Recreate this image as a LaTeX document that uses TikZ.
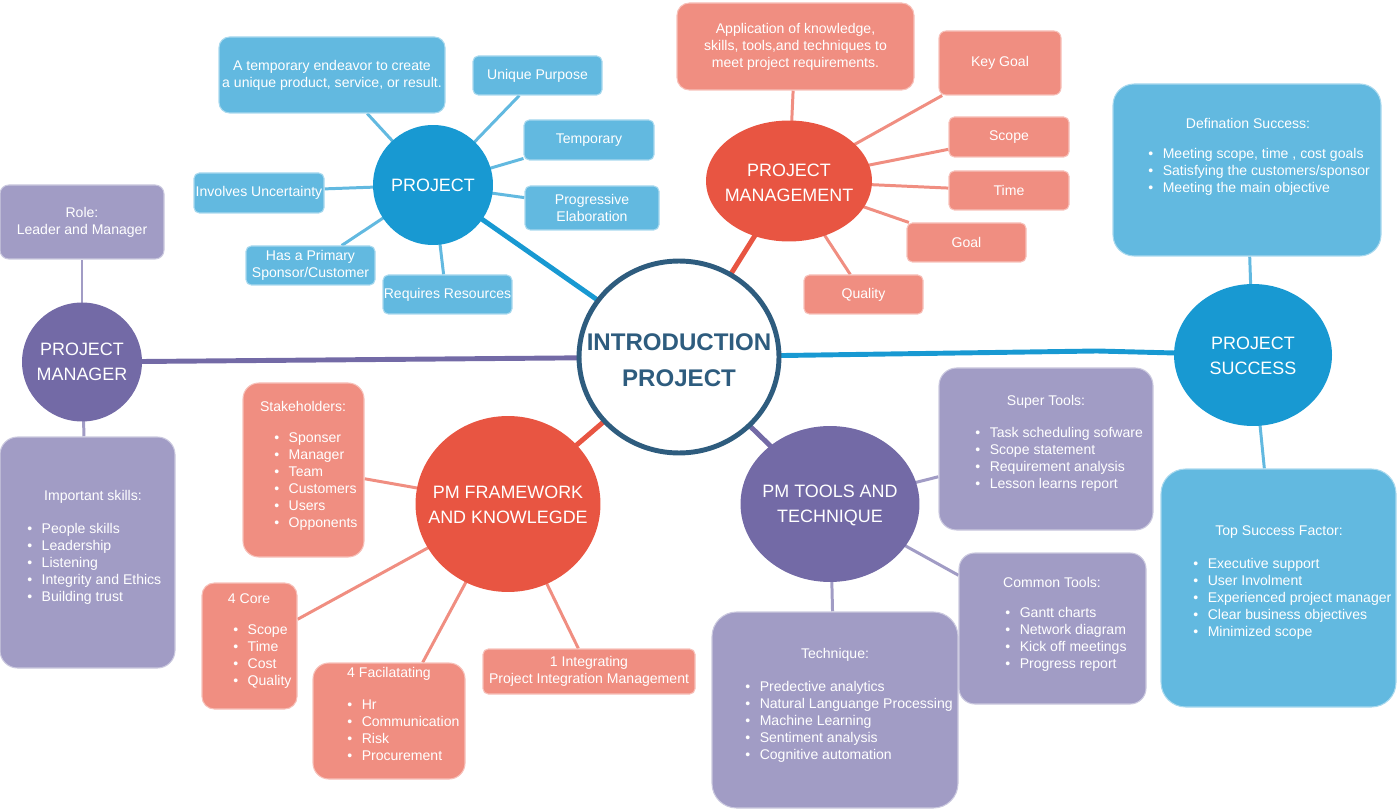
\documentclass[tikz,border=0pt]{standalone}
\usepackage{fontspec}
\setmainfont{Liberation Sans}
\usetikzlibrary{fit,calc,backgrounds,shapes.geometric}
\definecolor{introc}{HTML}{2E5C7E}
\definecolor{blueC}{HTML}{1899D2}
\definecolor{blueB}{HTML}{62B9E0}
\definecolor{redC}{HTML}{E85542}
\definecolor{redB}{HTML}{F08E81}
\definecolor{purC}{HTML}{736AA6}
\definecolor{purB}{HTML}{A19CC5}
\newcommand\itm[1]{\makebox[8.2pt][l]{\textbullet}#1}
\begin{document}
\begin{tikzpicture}[x=0.02cm,y=-0.02cm,
  boxbase/.style={inner sep=0pt, line width=0.6pt, rounded corners=3pt},
  bbox/.style={boxbase, fill=blueB, draw=blueB!55!white},
  rbox/.style={boxbase, fill=redB, draw=redB!55!white},
  lbox/.style={boxbase, fill=purB, draw=purB!55!white},
  circ/.style={ellipse, inner sep=0pt, draw=none},
  ctext/.style={font=\fontsize{10.2}{14.2}\selectfont, align=center, text=white, inner sep=0pt},
  ttl/.style={font=\fontsize{8}{9.7}\selectfont, text=white, inner sep=0pt, align=center},
  lst/.style={font=\fontsize{8}{9.7}\selectfont, text=white, inner sep=0pt, anchor=north west, align=left},
  thinline/.style={line width=1.7pt},
  mainline/.style={line width=2.8pt}]
\useasboundingbox (0,0) rectangle (1398,810);

% ---------- central ----------
\node[ellipse, draw=introc, line width=2.8pt, fill=white, minimum width=4cm, minimum height=3.84cm, inner sep=0pt] (intro) at (679,357) {};
\node[font=\bfseries\fontsize{13.7}{20.5}\selectfont, text=introc, align=center, inner sep=0pt] (introT) at (679,360) {INTRODUCTION\\PROJECT};

% ---------- circles ----------
\node[circ, fill=blueC, minimum width=2.4cm, minimum height=2.4cm] (proj) at (433,185) {};
\node[circ, fill=redC, minimum width=3.32cm, minimum height=2.42cm] (mgmt) at (789,181) {};
\node[circ, fill=blueC, minimum width=3.16cm, minimum height=2.84cm] (succ) at (1253,355) {};
\node[circ, fill=purC, minimum width=2.4cm, minimum height=2.38cm] (mgr) at (82,362) {};
\node[circ, fill=redC, minimum width=3.7cm, minimum height=3.52cm] (pmf) at (508,504) {};
\node[circ, fill=purC, minimum width=3.58cm, minimum height=3.12cm] (tools) at (830,504) {};

\node[ctext] (projT) at (433,185) {PROJECT};
\node[ctext] (mgmtT) at (789,183) {PROJECT\\MANAGEMENT};
\node[ctext] (succT) at (1253,356) {PROJECT\\SUCCESS};
\node[ctext] (mgrT) at (82,362) {PROJECT\\MANAGER};
\node[ctext] (pmfT) at (508,505) {PM FRAMEWORK\\AND KNOWLEGDE};
\node[ctext] (toolsT) at (830,505) {PM TOOLS AND\\TECHNIQUE};

% ---------- PROJECT boxes ----------
\node[bbox, rounded corners=6pt, fit={(219,37) (445,113)}] (pDef) {};
\node[ttl] (pDefT) at (pDef.center) {A temporary endeavor to create\\a unique product, service, or result.};
\node[bbox, fit={(473,56) (602,95)}] (pUniq) {};
\node[ttl] (pUniqT) at (pUniq.center) {Unique Purpose};
\node[bbox, fit={(524,120) (654,160)}] (pTemp) {};
\node[ttl] (pTempT) at (pTemp.center) {Temporary};
\node[bbox, fit={(525,186) (659,230)}] (pProg) {};
\node[ttl] (pProgT) at (pProg.center) {Progressive\\Elaboration};
\node[bbox, fit={(194,173) (324,213)}] (pInv) {};
\node[ttl] (pInvT) at (pInv.center) {Involves Uncertainty};
\node[bbox, fit={(246,246) (375,285)}] (pSpon) {};
\node[ttl] (pSponT) at (pSpon.center) {Has a Primary\\Sponsor/Customer};
\node[bbox, fit={(383,275) (512,314)}] (pRes) {};
\node[ttl] (pResT) at (pRes.center) {Requires Resources};

% ---------- PROJECT MANAGEMENT boxes ----------
\node[rbox, rounded corners=7pt, fit={(677,3) (914,90)}] (mApp) {};
\node[ttl] (mAppT) at (mApp.center) {Application of knowledge,\\skills, tools,and techniques to\\meet project requirements.};
\node[rbox, rounded corners=4pt, fit={(939,31) (1061,95)}] (mKey) {};
\node[ttl] (mKeyT) at (mKey.center) {Key Goal};
\node[rbox, fit={(949,117) (1069,157)}] (mScope) {};
\node[ttl] (mScopeT) at (mScope.center) {Scope};
\node[rbox, fit={(949,171) (1069,210)}] (mTime) {};
\node[ttl] (mTimeT) at (mTime.center) {Time};
\node[rbox, fit={(907,223) (1026,262)}] (mGoal) {};
\node[ttl] (mGoalT) at (mGoal.center) {Goal};
\node[rbox, fit={(804,275) (923,314)}] (mQual) {};
\node[ttl] (mQualT) at (mQual.center) {Quality};

% ---------- PROJECT SUCCESS boxes ----------
\node[bbox, rounded corners=12pt, fit={(1113,84) (1381,256)}] (sDef) {};
\node[ttl] (sDefT) at (1248,123) {Defination Success:};
\node[lst] (sDefL) at (1148,148) {\itm{Meeting scope, time , cost goals}\\\itm{Satisfying the customers/sponsor}\\\itm{Meeting the main objective}};
\node[bbox, rounded corners=14pt, fit={(1161,469) (1396,707)}] (sTop) {};
\node[ttl] (sTopT) at (1279,532) {Top Success Factor:};
\node[lst] (sTopL) at (1193,558) {\itm{Executive support}\\\itm{User Involment}\\\itm{Experienced project manager}\\\itm{Clear business objectives}\\\itm{Minimized scope}};

% ---------- PROJECT MANAGER boxes ----------
\node[lbox, rounded corners=5pt, fit={(0,185) (164,259)}] (rRole) {};
\node[ttl] (rRoleT) at (rRole.center) {Role:\\Leader and Manager};
\node[lbox, rounded corners=10pt, fit={(0,437) (175,668)}] (rSkill) {};
\node[ttl] (rSkillT) at (93,497) {Important skills:};
\node[lst] (rSkillL) at (27,523) {\itm{People skills}\\\itm{Leadership}\\\itm{Listening}\\\itm{Integrity and Ethics}\\\itm{Building trust}};

% ---------- PM FRAMEWORK boxes ----------
\node[rbox, rounded corners=9pt, fit={(243,383) (364,557)}] (fStake) {};
\node[ttl] (fStakeT) at (303,406) {Stakeholders:};
\node[lst] (fStakeL) at (274,432) {\itm{Sponser}\\\itm{Manager}\\\itm{Team}\\\itm{Customers}\\\itm{Users}\\\itm{Opponents}};
\node[rbox, rounded corners=7pt, fit={(202,583) (297,709)}] (fCore) {};
\node[ttl] (fCoreT) at (249,599) {4 Core};
\node[lst] (fCoreL) at (233,624) {\itm{Scope}\\\itm{Time}\\\itm{Cost}\\\itm{Quality}};
\node[rbox, rounded corners=9pt, fit={(313,663) (465,779)}] (fFac) {};
\node[ttl] (fFacT) at (389,674) {4 Facilatating};
\node[lst] (fFacL) at (347,699) {\itm{Hr}\\\itm{Communication}\\\itm{Risk}\\\itm{Procurement}};
\node[rbox, fit={(483,649) (695,694)}] (fInt) {};
\node[ttl] (fIntT) at (fInt.center) {1 Integrating\\Project Integration Management};

% ---------- PM TOOLS boxes ----------
\node[lbox, rounded corners=10pt, fit={(939,368) (1153,530)}] (tSup) {};
\node[ttl] (tSupT) at (1046,402) {Super Tools:};
\node[lst] (tSupL) at (975,427) {\itm{Task scheduling sofware}\\\itm{Scope statement}\\\itm{Requirement analysis}\\\itm{Lesson learns report}};
\node[lbox, rounded corners=9pt, fit={(959,553) (1146,704)}] (tCom) {};
\node[ttl] (tComT) at (1052,582) {Common Tools:};
\node[lst] (tComL) at (1005,607) {\itm{Gantt charts}\\\itm{Network diagram}\\\itm{Kick off meetings}\\\itm{Progress report}};
\node[lbox, rounded corners=14pt, fit={(712,612) (958,808)}] (tTech) {};
\node[ttl] (tTechT) at (835,655) {Technique:};
\node[lst] (tTechL) at (745,681) {\itm{Predective analytics}\\\itm{Natural Languange Processing}\\\itm{Machine Learning}\\\itm{Sentiment analysis}\\\itm{Cognitive automation}};

\coordinate (bendS) at (1097,351);

% ---------- connectors ----------
\begin{scope}[on background layer]
  \draw[mainline, blueC] (intro.center) -- (proj.center);
  \draw[mainline, redC] (intro.center) -- (mgmt.center);
  \draw[mainline, purC] (intro.center) -- (mgr.center);
  \draw[mainline, redC] (intro.center) -- (pmf.center);
  \draw[mainline, purC] (intro.center) -- (tools.center);
  \draw[mainline, blueC] (intro.center) -- (bendS) -- (succ.center);

  \draw[thinline, blueB] (proj.center) -- ($(pDef.south west)!0.655!(pDef.south east)$);
  \draw[thinline, blueB] (proj.center) -- ($(pUniq.south west)!0.36!(pUniq.south east)$);
  \draw[thinline, blueB] (proj.center) -- ($(pTemp.north west)!0.95!(pTemp.south west)$);
  \draw[thinline, blueB] (proj.center) -- ($(pProg.north west)!0.27!(pProg.south west)$);
  \draw[thinline, blueB] (proj.center) -- ($(pInv.north east)!0.4!(pInv.south east)$);
  \draw[thinline, blueB] (proj.center) -- ($(pSpon.north west)!0.74!(pSpon.north east)$);
  \draw[thinline, blueB] (proj.center) -- ($(pRes.north west)!0.47!(pRes.north east)$);

  \draw[thinline, redB] (mgmt.center) -- ($(mApp.south west)!0.49!(mApp.south east)$);
  \draw[thinline, redB] (mgmt.center) -- ($(mKey.south west)!0.03!(mKey.south east)$);
  \draw[thinline, redB] (mgmt.center) -- ($(mScope.north west)!0.8!(mScope.south west)$);
  \draw[thinline, redB] (mgmt.center) -- ($(mTime.north west)!0.44!(mTime.south west)$);
  \draw[thinline, redB] (mgmt.center) -- ($(mGoal.north west)!0.02!(mGoal.north east)$);
  \draw[thinline, redB] (mgmt.center) -- ($(mQual.north west)!0.39!(mQual.north east)$);

  \draw[thinline, blueB] (succ.center) -- ($(sDef.south west)!0.51!(sDef.south east)$);
  \draw[thinline, blueB] (succ.center) -- ($(sTop.north west)!0.44!(sTop.north east)$);

  \draw[thinline, purB] (mgr.center) -- (rRole.south);
  \draw[thinline, purB] (mgr.center) -- ($(rSkill.north west)!0.48!(rSkill.north east)$);

  \draw[thinline, redB] (pmf.center) -- ($(fStake.north east)!0.55!(fStake.south east)$);
  \draw[thinline, redB] (pmf.center) -- ($(fCore.north east)!0.29!(fCore.south east)$);
  \draw[thinline, redB] (pmf.center) -- ($(fFac.north west)!0.72!(fFac.north east)$);
  \draw[thinline, redB] (pmf.center) -- ($(fInt.north west)!0.45!(fInt.north east)$);

  \draw[thinline, purB] (tools.center) -- ($(tSup.north west)!0.67!(tSup.south west)$);
  \draw[thinline, purB] (tools.center) -- ($(tCom.north west)!0.15!(tCom.south west)$);
  \draw[thinline, purB] (tools.center) -- ($(tTech.north west)!0.49!(tTech.north east)$);
\end{scope}
\end{tikzpicture}
\end{document}
